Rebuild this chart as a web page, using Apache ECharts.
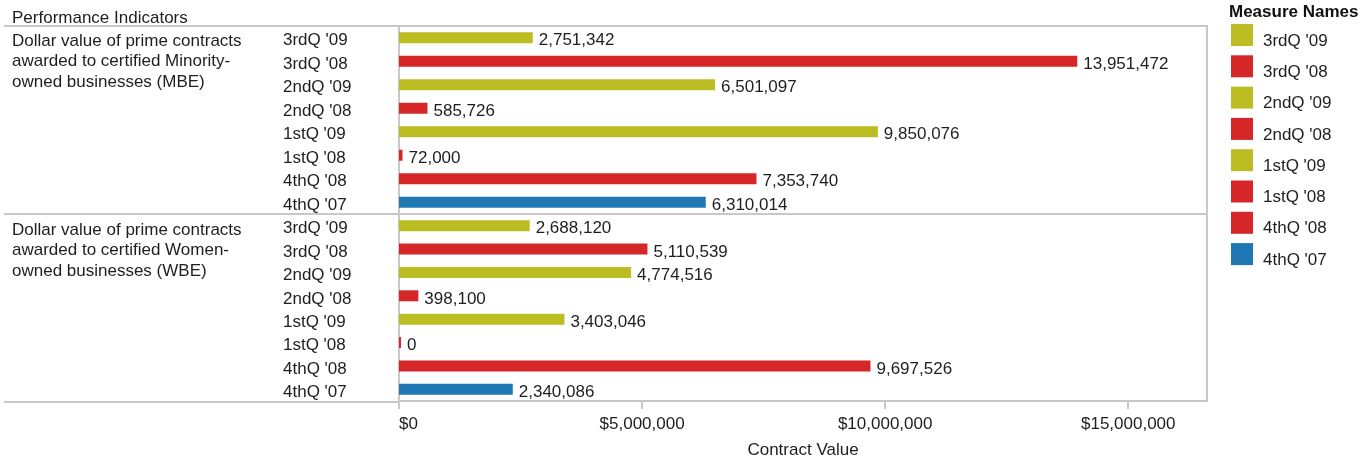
<!DOCTYPE html>
<html>
<head>
<meta charset="utf-8">
<title>Performance Indicators</title>
<script src="https://cdn.jsdelivr.net/npm/echarts@6/dist/echarts.min.js"></script>
<style>
  html, body { margin: 0; padding: 0; background: #fff; }
  #chart { width: 1371px; height: 460px; }
</style>
</head>
<body>
<div id="chart"></div>
<script>
// rows, top to bottom
const quarters = ["3rdQ '09", "3rdQ '08", "2ndQ '09", "2ndQ '08", "1stQ '09", "1stQ '08", "4thQ '08", "4thQ '07"]
const mbeValues = [2751342, 13951472, 6501097, 585726, 9850076, 72000, 7353740, 6310014]
const wbeValues = [2688120, 5110539, 4774516, 398100, 3403046, 0, 9697526, 2340086]
const paneTitles = [
  'Dollar value of prime contracts\nawarded to certified Minority-\nowned businesses (MBE)',
  'Dollar value of prime contracts\nawarded to certified Women-\nowned businesses (WBE)'
]
const xTicks = [0, 5000000, 10000000, 15000000]
const xMax = 16620000

const colorByQuarter = {
  "3rdQ '09": '#bcbd22',
  "2ndQ '09": '#bcbd22',
  "1stQ '09": '#bcbd22',
  "3rdQ '08": '#d62728',
  "2ndQ '08": '#d62728',
  "1stQ '08": '#d62728',
  "4thQ '08": '#d62728',
  "4thQ '07": '#1f77b4'
}

const FONT = '"Liberation Sans", Arial, sans-serif'
const TEXT = '#1e1e1e'
const RULE = '#c8c8c8'

const chart = echarts.init(document.getElementById('chart'))

const paneTop = [26, 214]
const paneHeight = 188
const plotLeft = 399
const plotWidth = 808

const fmt = v => Number(v).toLocaleString('en-US')

const grids = paneTop.map(top => ({
  left: plotLeft,
  top: top,
  width: plotWidth,
  height: paneHeight,
  show: true,
  borderColor: RULE,
  borderWidth: 2,
  backgroundColor: 'transparent'
}))

const xAxes = [0, 1].map(g => ({
  type: 'value',
  gridIndex: g,
  min: 0,
  max: xMax,
  interval: 5000000,
  splitLine: { show: false },
  axisLine: { show: false },
  axisTick: {
    show: g === 1,
    length: 8,
    customValues: xTicks,
    lineStyle: { color: RULE, width: 2 }
  },
  axisLabel: {
    show: g === 1,
    customValues: xTicks,
    alignMinLabel: 'left',
    margin: 15,
    fontFamily: FONT,
    fontSize: 17,
    color: TEXT,
    formatter: v => '$' + fmt(v)
  },
  name: g === 1 ? 'Contract Value' : '',
  nameLocation: 'middle',
  nameGap: 41,
  nameTextStyle: { fontFamily: FONT, fontSize: 17, color: TEXT }
}))

// row labels sit a little below the bar centre, as in the original
const yAxes = [0, 1].map(g => ({
  type: 'category',
  gridIndex: g,
  data: quarters,
  inverse: true,
  axisLine: { show: true, lineStyle: { color: RULE, width: 2 } },
  axisTick: { show: false },
  splitLine: { show: false },
  axisLabel: {
    align: 'left',
    margin: plotLeft - 283,
    fontFamily: FONT,
    fontSize: 17,
    color: TEXT,
    formatter: v => '{q|' + v + '}',
    rich: {
      q: { fontFamily: FONT, fontSize: 17, color: TEXT, padding: [6, 0, 0, 0] }
    }
  }
}))

const series = []
;[mbeValues, wbeValues].forEach((vals, g) => {
  quarters.forEach((q, i) => {
    series.push({
      name: q,
      type: 'bar',
      xAxisIndex: g,
      yAxisIndex: g,
      barWidth: 11,
      barGap: '-100%',
      barMinHeight: 2,
      itemStyle: { color: colorByQuarter[q] },
      label: {
        show: true,
        position: 'right',
        distance: 6,
        offset: [0, 3],
        fontFamily: FONT,
        fontSize: 17,
        color: TEXT,
        formatter: p => fmt(p.value)
      },
      data: quarters.map((_, j) => (j === i ? vals[i] : '-'))
    })
  })
})

const titleStyle = { fontFamily: FONT, fontSize: 17, fontWeight: 'normal', color: TEXT, lineHeight: 20.5 }

const option = {
  animation: false,
  textStyle: { fontFamily: FONT },
  title: [
    { text: 'Performance Indicators', left: 12, top: 8.5, padding: 0, textStyle: titleStyle },
    { text: paneTitles[0], left: 12, top: 31, padding: 0, textStyle: titleStyle },
    { text: paneTitles[1], left: 12, top: 220, padding: 0, textStyle: titleStyle },
    {
      text: 'Measure Names', left: 1229, top: 4, padding: 0,
      textStyle: { fontFamily: FONT, fontSize: 17, fontWeight: 'bold', color: '#111' }
    }
  ],
  legend: {
    data: quarters,
    orient: 'vertical',
    left: 1231,
    top: 24,
    padding: 0,
    icon: 'rect',
    itemWidth: 22,
    itemHeight: 22,
    itemGap: 5.8,
    selectedMode: false,
    formatter: name => '{t|' + name + '}',
    textStyle: {
      fontFamily: FONT,
      fontSize: 17,
      color: TEXT,
      rich: {
        t: { fontFamily: FONT, fontSize: 17, color: TEXT, padding: [12, 0, 0, 5] }
      }
    }
  },
  grid: grids,
  xAxis: xAxes,
  yAxis: yAxes,
  series: series,
  graphic: paneTop.concat([paneTop[1] + paneHeight]).map(y => ({
    type: 'line',
    silent: true,
    shape: { x1: 4, y1: y, x2: plotLeft, y2: y },
    style: { stroke: RULE, lineWidth: 2 }
  }))
}

chart.setOption(option)
</script>
</body>
</html>
